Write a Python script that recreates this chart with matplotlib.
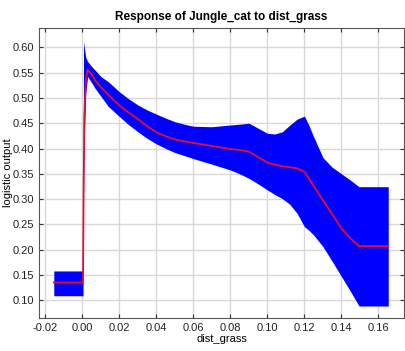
import matplotlib.pyplot as plt

# response curve: mean logistic output and its +/- band
dist_grass = [-0.0155, 0.0003, 0.0006, 0.0010, 0.0018, 0.0028, 0.005, 0.0068, 0.01, 0.014,
              0.02, 0.025, 0.03, 0.035, 0.04, 0.045, 0.05, 0.055, 0.06, 0.07, 0.08, 0.085,
              0.09, 0.095, 0.10, 0.104, 0.108, 0.112, 0.116, 0.12, 0.1225, 0.125, 0.13,
              0.135, 0.14, 0.145, 0.1495, 0.1653]
mean_out = [0.135, 0.135, 0.30, 0.46, 0.535, 0.556, 0.546, 0.535, 0.521, 0.506,
            0.485, 0.471, 0.458, 0.444, 0.432, 0.424, 0.418, 0.414, 0.411, 0.405, 0.399, 0.397,
            0.394, 0.383, 0.372, 0.368, 0.365, 0.363, 0.361, 0.354, 0.340, 0.326, 0.298,
            0.270, 0.242, 0.222, 0.207, 0.207]
upper_out = [0.158, 0.158, 0.612, 0.60, 0.58, 0.572, 0.562, 0.555, 0.542, 0.532,
             0.512, 0.498, 0.486, 0.476, 0.468, 0.460, 0.453, 0.448, 0.444, 0.443, 0.4465, 0.448,
             0.45, 0.44, 0.43, 0.4287, 0.433, 0.446, 0.458, 0.464, 0.445, 0.423, 0.382,
             0.363, 0.35, 0.337, 0.3245, 0.3245]
lower_out = [0.109, 0.109, 0.33, 0.42, 0.51, 0.542, 0.530, 0.519, 0.503, 0.483,
             0.463, 0.447, 0.433, 0.420, 0.409, 0.400, 0.392, 0.386, 0.380, 0.369, 0.3575, 0.350,
             0.341, 0.330, 0.318, 0.309, 0.301, 0.290, 0.272, 0.2455, 0.238, 0.229, 0.206,
             0.177, 0.147, 0.117, 0.0887, 0.0887]

xticks = [-0.02, 0.0, 0.02, 0.04, 0.06, 0.08, 0.10, 0.12, 0.14, 0.16]
yticks = [0.10, 0.15, 0.20, 0.25, 0.30, 0.35, 0.40, 0.45, 0.50, 0.55, 0.60]

plt.rcParams['font.family'] = ['Liberation Sans Narrow', 'Liberation Sans', 'DejaVu Sans']

fig = plt.figure(figsize=(4.06, 3.51), dpi=100)
ax = fig.add_axes([0.096, 0.094, 0.899, 0.826])

ax.fill_between(dist_grass, lower_out, upper_out, color=(0, 0, 1), linewidth=0)
ax.plot(dist_grass, mean_out, color=(0.9, 0.05, 0.2), linewidth=1.3)

ax.set_xlim(-0.0235, 0.1738)
ax.set_ylim(0.065, 0.638)
ax.set_xticks(xticks)
ax.set_xticklabels(['%.2f' % v for v in xticks])
ax.set_yticks(yticks)
ax.set_yticklabels(['%.2f' % v for v in yticks])
ax.tick_params(direction='in', top=True, right=True, labelsize=8, length=3,
               color='#333333', labelcolor='#222222')
ax.grid(True, color='#d8d8d8', linewidth=1)
ax.set_axisbelow(True)
for s in ax.spines.values():
    s.set_color('#555555')

ax.set_title('Response of Jungle_cat to dist_grass', fontsize=8.5, fontweight='bold', pad=6)
ax.set_xlabel('dist_grass', fontsize=8, labelpad=1)
ax.set_ylabel('logistic output', fontsize=8, labelpad=0)

fig.savefig('out.png', dpi=100)
